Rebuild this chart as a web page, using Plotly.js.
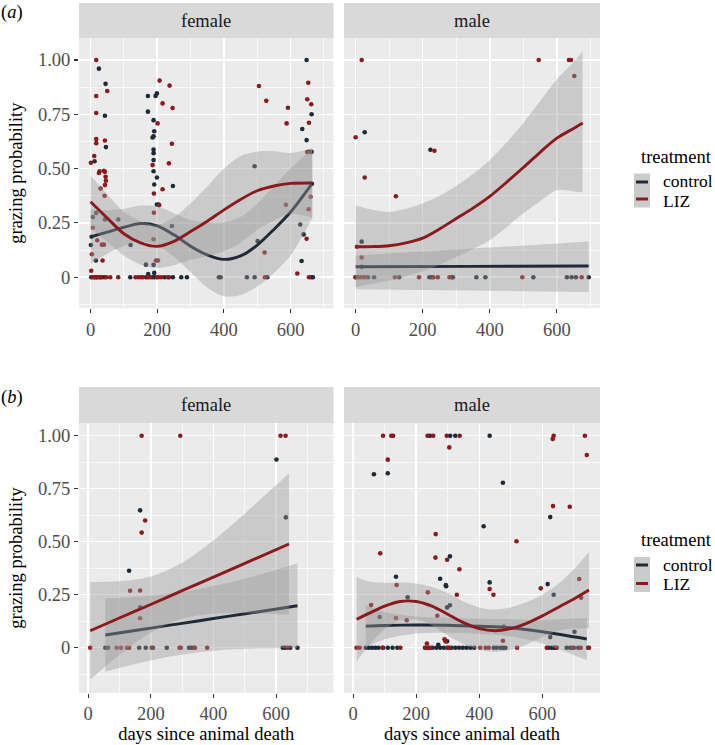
<!DOCTYPE html>
<html><head><meta charset="utf-8">
<script src="https://cdn.plot.ly/plotly-3.0.1.min.js"></script>
<style>html,body{margin:0;padding:0;background:#fff}</style>
</head><body><div id="chart" style="width:715px;height:745px"></div>
<script>
// ---------- DATA ----------
const yTickVals = [0, 0.25, 0.5, 0.75, 1];
const yTickText = ['0', '0.25', '0.50', '0.75', '1.00'];
const yMinorVals = [-0.125, 0.125, 0.375, 0.625, 0.875];
const xTickVals = [0, 200, 400, 600];
const xTickText = ['0', '200', '400', '600'];
const xMinorVals = [100, 300, 500, 700];
const facetNames = ['female', 'male'];
const seriesNames = ['control', 'LIZ'];

// (a) female - observed points
const aFemCtrlX = [25,45,172,195,199,43,172,189,191,189,186,46,189,189,189,12,189,199,191,247,199,203,7,17,43,83,3,1,120,16,166,189,191,173,244,648,663,635,648,655,663,492,664,629,639,633,501,
  2,12,19,27,33,41,119,167,185,192,222,235,247,272,289,385,390,469,492,530,662,667];
const aFemCtrlY = [0.96,0.89,0.834,0.834,0.846,0.743,0.762,0.723,0.672,0.649,0.643,0.599,0.588,0.571,0.539,0.534,0.488,0.459,0.427,0.42,0.335,0.335,0.277,0.296,0.266,0.266,0.186,0.148,0.148,0.077,0.058,0.057,0.02,0.015,0.236,1.0,0.75,0.682,0.631,0.577,0.577,0.511,0.43,0.243,0.197,0.075,0.167,
  0,0,0,0,0,0,0,0,0,0,0,0,0,0,0,0,0,0,0,0,0,0];
const aFemLizX = [17,207,237,50,17,216,246,17,201,17,43,17,244,11,1,186,235,40,43,27,25,45,46,43,216,30,42,206,190,190,7,20,34,40,4,36,2,189,196,202,505,653,527,650,662,592,588,655,650,660,654,586,648,522,620,
  7,14,20,30,47,59,83,135,143,151,157,172,179,199,203,212,232,523,655];
const aFemLizY = [1.0,0.905,0.882,0.857,0.834,0.80,0.779,0.756,0.708,0.636,0.629,0.617,0.614,0.558,0.527,0.516,0.524,0.49,0.485,0.488,0.48,0.462,0.444,0.424,0.405,0.408,0.375,0.332,0.297,0.385,0.228,0.17,0.15,0.15,0.106,0.077,0.03,0.175,0.077,0.077,0.88,0.895,0.812,0.819,0.796,0.78,0.708,0.711,0.576,0.37,0.313,0.333,0.177,0.114,0.017,
  0,0,0,0,0,0,0,0,0,0,0,0,0,0,0,0,0,0,0];
// (a) female - smooth fits
const aFemFitX    = [0,50,100,150,200,250,300,350,400,450,500,550,600,665];
const aFemCtrlFit = [0.186,0.208,0.23,0.247,0.236,0.195,0.143,0.103,0.082,0.098,0.148,0.22,0.30,0.432];
const aFemCtrlLo  = [0.061,0.108,0.145,0.164,0.146,0.095,0.023,-0.047,-0.088,-0.082,-0.042,0.02,0.10,0.272];
const aFemCtrlHi  = [0.311,0.308,0.315,0.33,0.326,0.295,0.263,0.253,0.252,0.278,0.338,0.42,0.50,0.592];
const aFemLizFit  = [0.347,0.272,0.2,0.158,0.142,0.165,0.21,0.258,0.31,0.358,0.398,0.42,0.432,0.434];
const aFemLizLo   = [0.227,0.162,0.1,0.058,0.042,0.055,0.08,0.098,0.12,0.158,0.218,0.26,0.292,0.274];
const aFemLizHi   = [0.467,0.382,0.3,0.258,0.242,0.275,0.34,0.418,0.50,0.558,0.578,0.58,0.572,0.594];

// (a) male - observed points
const aMalCtrlX = [27,223,18,18, 0,7,37,55,130,220,227,287,290,360,387,530,630,644,657,695];
const aMalCtrlY = [0.667,0.587,0.164,0.048, 0,0,0,0,0,0,0,0,0,0,0,0,0,0,0,0];
const aMalLizX = [18,546,636,642,652,0,235,27,120,18,4, 0,14,22,28,117,189,232,245,280,497,674];
const aMalLizY = [1,1,1,1,0.926,0.644,0.582,0.459,0.373,0.091,0.14, 0,0,0,0,0,0,0,0,0,0,0];
// (a) male - smooth fits
const aMalCtrlFitX = [0,350,695];
const aMalCtrlFit  = [0.048,0.05,0.052];
const aMalCtrlLo   = [-0.055,-0.061,-0.068];
const aMalCtrlHi   = [0.10,0.132,0.165];
const aMalLizFitX  = [0,50,100,150,200,250,300,350,400,450,500,550,600,650,677];
const aMalLizFit   = [0.14,0.141,0.145,0.158,0.18,0.222,0.27,0.318,0.372,0.437,0.505,0.575,0.64,0.685,0.71];
const aMalLizLo    = [-0.045,-0.03,-0.015,0.005,0.027,0.058,0.093,0.13,0.17,0.23,0.294,0.35,0.40,0.395,0.39];
const aMalLizHi    = [0.33,0.31,0.30,0.315,0.34,0.375,0.42,0.475,0.54,0.62,0.71,0.81,0.91,0.99,1.04];

// (b) female - observed points
const bFemCtrlX = [601,166,631,131,166, 55,64,163,184,207,251,322,329,337,621,628,645,668];
const bFemCtrlY = [0.888,0.648,0.615,0.363,0.19, 0,0,0,0,0,0,0,0,0,0,0,0,0];
const bFemLizX = [171,294,614,630,182,171,134,166,166, 7,91,105,124,131,203,292,296,341,380,636];
const bFemLizY = [1,1,1,1,0.6,0.543,0.269,0.27,0.139, 0,0,0,0,0,0,0,0,0,0,0];
// (b) female - fits
const bFemCtrlFitX = [55,150,250,350,450,550,668];
const bFemCtrlFit  = [0.06,0.081,0.104,0.126,0.149,0.171,0.198];
const bFemCtrlLo   = [-0.113,-0.077,-0.045,-0.023,-0.009,-0.003,-0.002];
const bFemCtrlHi   = [0.233,0.239,0.253,0.275,0.307,0.345,0.398];
const bFemLizFitX  = [7,100,200,300,400,500,641];
const bFemLizFit   = [0.08,0.14,0.204,0.269,0.333,0.398,0.489];
const bFemLizLo    = [-0.15,-0.033,0.072,0.137,0.16,0.163,0.155];
const bFemLizHi    = [0.31,0.313,0.336,0.401,0.506,0.633,0.823];

// (b) male - observed points
const bMalCtrlX = [244,308,324,433,66,110,475,414,625,307,136,276,295,294,433,617,173,298,307,84,636,702,625,270,298,
  40,50,60,70,80,95,110,125,140,228,240,252,264,276,288,300,312,324,336,348,360,372,384,446,455,467,475,483,618,628,636,641,677,688,700,714,745];
const bMalCtrlY = [1,1,1,1,0.818,0.823,0.778,0.573,0.616,0.431,0.335,0.325,0.29,0.295,0.308,0.30,0.238,0.19,0.2,0.145,0.25,0.075,0.05,0.014,0.03,
  0,0,0,0,0,0,0,0,0,0,0,0,0,0,0,0,0,0,0,0,0,0,0,0,0,0,0,0,0,0,0,0,0,0,0,0,0];
const bMalLizX = [95,121,127,236,254,297,338,305,110,262,86,261,298,337,329,138,237,57,136,170,267,234,290,293,636,633,735,741,634,687,518,433,445,595,717,723,475,478,
  11,21,93,150,232,239,246,300,305,403,420,430,520,614,646,696,722,748];
const bMalLizY = [1,1,1,1,1,1,1,0.945,0.887,0.536,0.445,0.425,0.415,0.37,0.25,0.296,0.261,0.201,0.14,0.13,0.151,0.02,0.04,0.03,1,0.985,1,0.909,0.668,0.665,0.502,0.277,0.25,0.28,0.324,0.236,0.033,0.1,
  0,0,0,0,0,0,0,0,0,0,0,0,0,0,0,0,0,0];
// (b) male - fits
const bMalCtrlFitX = [40,100,200,300,400,500,600,741];
const bMalCtrlFit  = [0.102,0.105,0.107,0.106,0.101,0.094,0.075,0.041];
const bMalCtrlLo   = [0.002,0.04,0.067,0.071,0.066,0.054,0.02,-0.059];
const bMalCtrlHi   = [0.202,0.17,0.147,0.141,0.136,0.134,0.13,0.141];
const bMalLizFitX  = [11,50,100,150,200,250,300,350,400,450,500,550,600,650,700,748];
const bMalLizFit   = [0.134,0.162,0.196,0.218,0.218,0.196,0.158,0.118,0.09,0.08,0.09,0.115,0.15,0.19,0.23,0.272];
const bMalLizLo    = [-0.066,0.012,0.086,0.128,0.133,0.106,0.058,0.018,-0.01,-0.02,-0.01,0.015,0.05,0.08,0.09,0.092];
const bMalLizHi    = [0.334,0.312,0.306,0.308,0.303,0.286,0.258,0.218,0.19,0.18,0.19,0.215,0.25,0.30,0.37,0.452];

// ---------- STYLE ----------
const FONT = 'Liberation Serif';
const FS = 18.5;
const CTRL = '#1f2a38';
const LIZ = '#8c1a1d';
const RIB = 'rgba(153,153,153,0.4)';
const W = 715, H = 745;
const M = {l: 79, r: 115, t: 3, b: 52};
const PW = W - M.l - M.r, PH = H - M.t - M.b;
const PX = px => (px - M.l) / PW;
const PY = py => (H - M.b - py) / PH;

function pts(xa, ya, x, y, color) {
  return {type: 'scatter', mode: 'markers', x: x, y: y, xaxis: xa, yaxis: ya,
    marker: {size: 4.6, color: color, line: {width: 0}}, hoverinfo: 'skip', showlegend: false};
}
function ribbon(xa, ya, x, lo, hi) {
  return [
    {type: 'scatter', mode: 'lines', x: x, y: lo, xaxis: xa, yaxis: ya,
      line: {width: 0, shape: 'spline', smoothing: 0.8}, hoverinfo: 'skip', showlegend: false},
    {type: 'scatter', mode: 'lines', x: x, y: hi, xaxis: xa, yaxis: ya, fill: 'tonexty', fillcolor: RIB,
      line: {width: 0, shape: 'spline', smoothing: 0.8}, hoverinfo: 'skip', showlegend: false}
  ];
}
function fitLine(xa, ya, x, y, color) {
  return {type: 'scatter', mode: 'lines', x: x, y: y, xaxis: xa, yaxis: ya,
    line: {width: 2.9, color: color, shape: 'spline', smoothing: 0.8}, hoverinfo: 'skip', showlegend: false};
}
function panel(xa, ya, cX, cY, lX, lY, cfx, cf, clo, chi, lfx, lf, llo, lhi) {
  return [pts(xa, ya, cX, cY, CTRL), pts(xa, ya, lX, lY, LIZ)]
    .concat(ribbon(xa, ya, cfx, clo, chi))
    .concat([fitLine(xa, ya, cfx, cf, CTRL)])
    .concat(ribbon(xa, ya, lfx, llo, lhi))
    .concat([fitLine(xa, ya, lfx, lf, LIZ)]);
}

const traces = []
  .concat(panel('x', 'y', aFemCtrlX, aFemCtrlY, aFemLizX, aFemLizY, aFemFitX, aFemCtrlFit, aFemCtrlLo, aFemCtrlHi, aFemFitX, aFemLizFit, aFemLizLo, aFemLizHi))
  .concat(panel('x2', 'y2', aMalCtrlX, aMalCtrlY, aMalLizX, aMalLizY, aMalCtrlFitX, aMalCtrlFit, aMalCtrlLo, aMalCtrlHi, aMalLizFitX, aMalLizFit, aMalLizLo, aMalLizHi))
  .concat(panel('x3', 'y3', bFemCtrlX, bFemCtrlY, bFemLizX, bFemLizY, bFemCtrlFitX, bFemCtrlFit, bFemCtrlLo, bFemCtrlHi, bFemLizFitX, bFemLizFit, bFemLizLo, bFemLizHi))
  .concat(panel('x4', 'y4', bMalCtrlX, bMalCtrlY, bMalLizX, bMalLizY, bMalCtrlFitX, bMalCtrlFit, bMalCtrlLo, bMalCtrlHi, bMalLizFitX, bMalLizFit, bMalLizLo, bMalLizHi));

const tickFont = {family: FONT, size: FS, color: '#4d4d4d'};
const titleFont = {family: FONT, size: FS, color: '#000'};
function xax(domain, range, anchor, title) {
  const a = {domain: domain, range: range, anchor: anchor, tickmode: 'array', tickvals: xTickVals, ticktext: xTickText,
    showgrid: true, gridcolor: '#ffffff', gridwidth: 1.5, zeroline: false, showline: false,
    ticks: 'outside', ticklen: 4, tickwidth: 1.1, tickcolor: '#333333', tickfont: tickFont,
    minor: {tickmode: 'array', tickvals: xMinorVals, showgrid: true, gridcolor: '#ffffff', gridwidth: 0.7, ticks: ''},
    fixedrange: true};
  if (title) { a.title = {text: title, font: titleFont, standoff: 3}; }
  return a;
}
function yax(domain, range, anchor, labels, title) {
  const a = {domain: domain, range: range, anchor: anchor, tickmode: 'array', tickvals: yTickVals, ticktext: yTickText,
    showgrid: true, gridcolor: '#ffffff', gridwidth: 1.5, zeroline: false, showline: false,
    ticks: labels ? 'outside' : '', ticklen: 4, tickwidth: 1.1, tickcolor: '#333333', tickfont: tickFont,
    showticklabels: labels,
    minor: {tickmode: 'array', tickvals: yMinorVals, showgrid: true, gridcolor: '#ffffff', gridwidth: 0.7, ticks: ''},
    fixedrange: true};
  if (title) { a.title = {text: title, font: titleFont, standoff: 10}; }
  return a;
}

const xF = [PX(79), PX(333.5)], xM = [PX(344), PX(600)];
const yA = [PY(308.3), PY(38)], yB = [PY(693), PY(423)];
const xRangeA = [-34.7, 728.7], xRangeB = [-28.9, 782.9];
const yRangeA = [-0.143, 1.101], yRangeB = [-0.2137, 1.06];

const shapes = [];
const annotations = [];
// strips
[[3, 38], [387, 423]].forEach(function (s) {
  [[79, 333.5], [344, 600]].forEach(function (c) {
    shapes.push({type: 'rect', xref: 'paper', yref: 'paper', x0: PX(c[0]), x1: PX(c[1]), y0: PY(s[1]), y1: PY(s[0]),
      fillcolor: '#d9d9d9', line: {width: 0}, layer: 'below'});
  });
  [[79, 333.5], [344, 600]].forEach(function (c, i) {
    annotations.push({xref: 'paper', yref: 'paper', x: PX((c[0] + c[1]) / 2), y: PY((s[0] + s[1]) / 2),
      text: facetNames[i], showarrow: false, xanchor: 'center', yanchor: 'middle',
      font: {family: FONT, size: FS, color: '#1a1a1a'}});
  });
});
// panel tags
annotations.push({xref: 'paper', yref: 'paper', x: PX(12), y: PY(13), text: '(<i>a</i>)', showarrow: false,
  xanchor: 'center', yanchor: 'middle', font: {family: FONT, size: FS, color: '#000'}});
annotations.push({xref: 'paper', yref: 'paper', x: PX(12), y: PY(397), text: '(<i>b</i>)', showarrow: false,
  xanchor: 'center', yanchor: 'middle', font: {family: FONT, size: FS, color: '#000'}});
// legends (one per row)
[{t: 157, c: 182, l: 199, tc: 181, tl: 200.5, b0: 173.5, b2: 207.5},
 {t: 540, c: 565, l: 583.5, tc: 564.5, tl: 584, b0: 557, b2: 592}].forEach(function (g) {
  annotations.push({xref: 'paper', yref: 'paper', x: PX(639), y: PY(g.t), text: 'treatment', showarrow: false,
    xanchor: 'left', yanchor: 'middle', font: {family: FONT, size: FS, color: '#000'}});
  shapes.push({type: 'rect', xref: 'paper', yref: 'paper', x0: PX(634), x1: PX(650), y0: PY(g.b2), y1: PY(g.b0),
    fillcolor: '#cbcbcb', line: {width: 0}});
  [[g.c, g.tc, CTRL, seriesNames[0]], [g.l, g.tl, LIZ, seriesNames[1]]].forEach(function (it) {
    shapes.push({type: 'line', xref: 'paper', yref: 'paper', x0: PX(636), x1: PX(648), y0: PY(it[0]), y1: PY(it[0]),
      line: {color: it[2], width: 3}});
    annotations.push({xref: 'paper', yref: 'paper', x: PX(661), y: PY(it[1]), text: it[3], showarrow: false,
      xanchor: 'left', yanchor: 'middle', font: {family: FONT, size: 17.5, color: '#000'}});
  });
});

const layout = {
  width: W, height: H, margin: M, paper_bgcolor: '#ffffff', plot_bgcolor: '#ebebeb',
  showlegend: false, font: {family: FONT, size: FS},
  xaxis: xax(xF, xRangeA, 'y'),
  yaxis: yax(yA, yRangeA, 'x', true, 'grazing probability'),
  xaxis2: xax(xM, xRangeA, 'y2'),
  yaxis2: yax(yA, yRangeA, 'x2', false),
  xaxis3: xax(xF, xRangeB, 'y3', 'days since animal death'),
  yaxis3: yax(yB, yRangeB, 'x3', true, 'grazing probability'),
  xaxis4: xax(xM, xRangeB, 'y4', 'days since animal death'),
  yaxis4: yax(yB, yRangeB, 'x4', false),
  shapes: shapes, annotations: annotations
};
Plotly.newPlot('chart', traces, layout, {displayModeBar: false, staticPlot: true});
</script></body></html>
